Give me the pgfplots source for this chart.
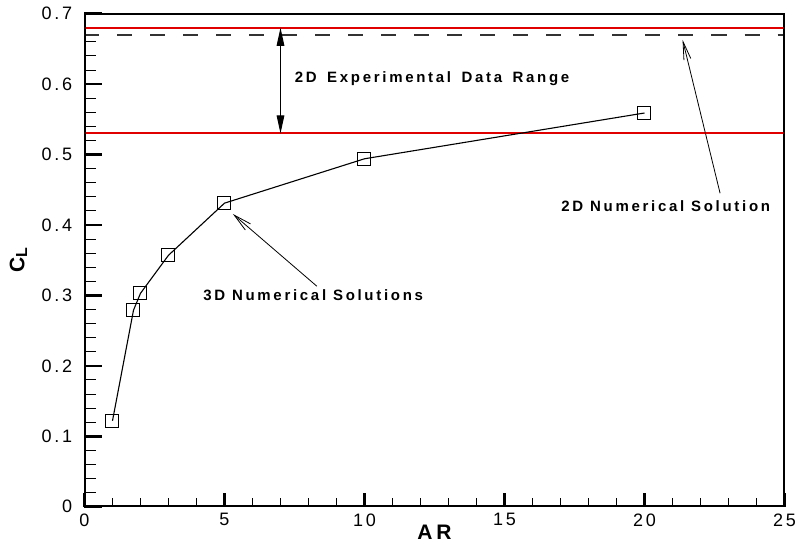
\documentclass[border=0pt]{standalone}
\usepackage{fontspec}
\setmainfont{Liberation Sans}
\usepackage{pgfplots}
\pgfplotsset{compat=1.18}
\usetikzlibrary{arrows.meta}
\newfontfamily\spfont[LetterSpace=15]{Liberation Sans}
\newfontfamily\annfont[LetterSpace=18]{Liberation Sans}
\definecolor{refred}{RGB}{225,0,0}
\begin{document}
\begin{tikzpicture}
\useasboundingbox (-42.25pt,-24.65pt) rectangle (357.75pt,253.35pt);
\pgfplotsset{common/.style={
  scale only axis, width=350pt, height=246.5pt,
  xmin=0, xmax=25, ymin=0, ymax=0.7,
  /pgf/number format/assume math mode=true,
  tick align=inside,
  major tick style={line width=1.3pt, black},
  minor tick style={line width=0.5pt, black},
  ticklabel style={font=\spfont\fontsize{9}{10}\selectfont},
}}
% y ticks / labels
\begin{axis}[common,
  xtick=\empty,
  ytick={0,0.1,0.2,0.3,0.4,0.5,0.6,0.7},
  minor y tick num=4,
  ytick pos=left,
  major tick length=9pt, minor tick length=5.75pt,
  yticklabel style={inner sep=0pt, xshift=-6pt},
  ylabel={\annfont\bfseries\fontsize{10.5}{12}\selectfont C\raisebox{-0.25ex}{\fontsize{8}{9}\selectfont L}},
  ylabel style={at={(axis description cs:0,0.5)}, anchor=center, rotate=0, yshift=33pt},
]
\end{axis}
% main axis with data and x ticks
\begin{axis}[common,
  xtick={0,5,10,15,20,25},
  minor x tick num=4,
  ytick=\empty,
  xtick pos=bottom,
  major tick length=7pt, minor tick length=4.2pt,
  xticklabel style={inner sep=0pt, yshift=-3.2pt},
  xlabel={\annfont\bfseries\fontsize{10.5}{12}\selectfont AR},
  xlabel style={at={(axis description cs:0.5,0)}, anchor=center, yshift=-12.7pt},
]
\addplot[draw=refred, line width=0.9pt] coordinates {(0,0.68) (25,0.68)};
\addplot[draw=refred, line width=0.9pt] coordinates {(0,0.5305) (25,0.5305)};
\addplot[draw=black!80, line width=0.7pt, dash pattern=on 7.5pt off 9pt] coordinates {(0,0.67) (25,0.67)};
\addplot[black, line width=0.55pt, mark=square, mark size=3.25pt, mark options={solid, line width=0.5pt}]
  coordinates {(1,0.122) (1.75,0.279) (2,0.303) (3,0.357) (5,0.431) (10,0.494) (20,0.559)};
\draw[{Triangle[length=9pt,width=3.8pt]}-{Triangle[length=9pt,width=3.8pt]}, line width=0.5pt]
  (axis cs:7,0.68) -- (axis cs:7,0.53);
\draw[-{Straight Barb[length=9pt,width=4pt]}, line width=0.4pt] (axis cs:8.3,0.313) -- (axis cs:5.3,0.4156);
\draw[-{Straight Barb[length=9pt,width=3.5pt]}, line width=0.4pt] (axis cs:22.7,0.445) -- (axis cs:21.36,0.663);
\node[anchor=west, inner sep=0pt, font=\annfont\bfseries\fontsize{7.5}{9}\selectfont] at (axis cs:7.5,0.608) {2D\hspace{1.8pt} Experimental\hspace{1.8pt} Data\hspace{1.8pt} Range};
\node[anchor=west, inner sep=0pt, font=\annfont\bfseries\fontsize{7.5}{9}\selectfont] at (axis cs:17.02,0.4274) {2D Numerical Solution};
\node[anchor=west, inner sep=0pt, font=\annfont\bfseries\fontsize{7.5}{9}\selectfont] at (axis cs:4.23,0.3006) {3D Numerical Solutions};
\draw[line width=1.5pt, black, line join=miter] (rel axis cs:0,0) rectangle (rel axis cs:1,1);
\end{axis}
\end{tikzpicture}
\end{document}
